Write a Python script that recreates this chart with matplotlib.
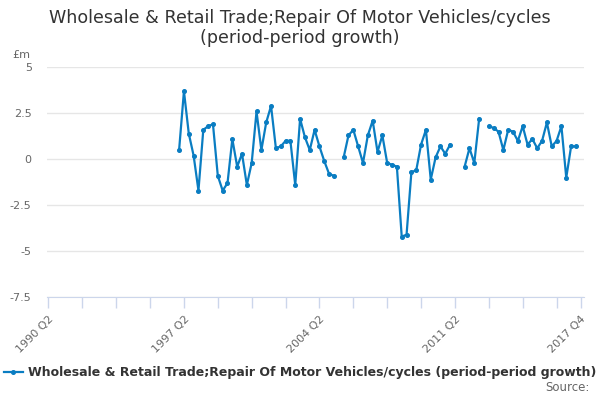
import numpy as np
import matplotlib
matplotlib.use('Agg')
import matplotlib.pyplot as plt

# quarters 1990 Q2 .. 2017 Q4, category axis
quarters = []
for yr in range(1990, 2018):
    for q in range(1, 5):
        if (yr == 1990 and q < 2):
            continue
        quarters.append('%d Q%d' % (yr, q))

nan = np.nan
# growth (%), missing quarters are nan; series starts 1997 Q1
growth = [nan] * 27 + [
    0.5, 3.7, 1.4, 0.2, -1.7, 1.6, 1.8, 1.9, -0.9, -1.7, -1.3, 1.1, -0.4, 0.3,
    -1.4, -0.2, 2.6, 0.5, 2.0, 2.9, 0.6, 0.7, 1.0, 1.0, -1.4, 2.2, 1.2, 0.5,
    1.6, 0.7, -0.1, -0.8, -0.9,
    nan,
    0.1, 1.3, 1.6, 0.7, -0.2, 1.3, 2.1, 0.4, 1.3, -0.2, -0.3, -0.4, -4.2, -4.1,
    -0.7, -0.6, 0.8, 1.6, -1.1, 0.1, 0.7, 0.3, 0.8,
    nan, nan,
    -0.4, 0.6, -0.2, 2.2,
    nan,
    1.8, 1.7, 1.5, 0.5, 1.6, 1.5, 1.0, 1.8, 0.8, 1.1, 0.6, 1.0, 2.0, 0.7, 1.0,
    1.8, -1.0, 0.7, 0.7,
    nan,
]
yticks = [5, 2.5, 0, -2.5, -5, -7.5]
ytick_labels = ['5', '2.5', '0', '-2.5', '-5', '-7.5']
series_name = 'Wholesale & Retail Trade;Repair Of Motor Vehicles/cycles (period-period growth)'

x = np.arange(len(quarters))

fig = plt.figure(figsize=(6, 4), dpi=100)
ax = fig.add_axes([0.0783, 0.2568, 0.8945, 0.575])

ax.plot(x, growth, color='#0a7dc2', lw=1.6, marker='o', ms=2.6,
        label=series_name)

ax.set_ylim(-7.5, 5)
ax.set_yticks(yticks)
ax.set_yticklabels(ytick_labels)
ax.set_xlim(-0.3, 110.6)

tick_pos = list(range(0, len(quarters), 7)) + [len(quarters) - 1]
ax.set_xticks(tick_pos)
lab = ['' for _ in tick_pos]
for i, p in enumerate(tick_pos):
    if p % 28 == 0 or p == len(quarters) - 1:
        lab[i] = quarters[p]
ax.set_xticklabels(lab, rotation=45, ha='right', rotation_mode='anchor')

ax.grid(axis='y', color='#e6e6e6', lw=1)
ax.set_axisbelow(True)
for s in ['top', 'right', 'left']:
    ax.spines[s].set_visible(False)
ax.spines['bottom'].set_color('#ccd6eb')
ax.tick_params(axis='x', colors='#ccd6eb', length=8, width=1, labelcolor='#666666',
               labelsize=8, pad=4)
ax.tick_params(axis='y', length=0, labelcolor='#666666', labelsize=8, pad=11)

fig.text(0.5, 0.977, 'Wholesale & Retail Trade;Repair Of Motor Vehicles/cycles\n(period-period growth)',
         ha='center', va='top', fontsize=12.6, color='#333333', linespacing=1.15)
fig.text(0.02, 0.855, '£m', fontsize=8, color='#666666')

leg = fig.legend(loc='center', bbox_to_anchor=(0.5, 0.068), frameon=False,
                 prop={'weight': 'bold', 'size': 9.0}, handlelength=1.5,
                 handletextpad=0.4, borderaxespad=0)
for t in leg.get_texts():
    t.set_color('#333333')
fig.text(0.982, 0.015, 'Source:', ha='right', va='bottom', fontsize=8.5, color='#666666')

fig.savefig('out.png', dpi=100)
